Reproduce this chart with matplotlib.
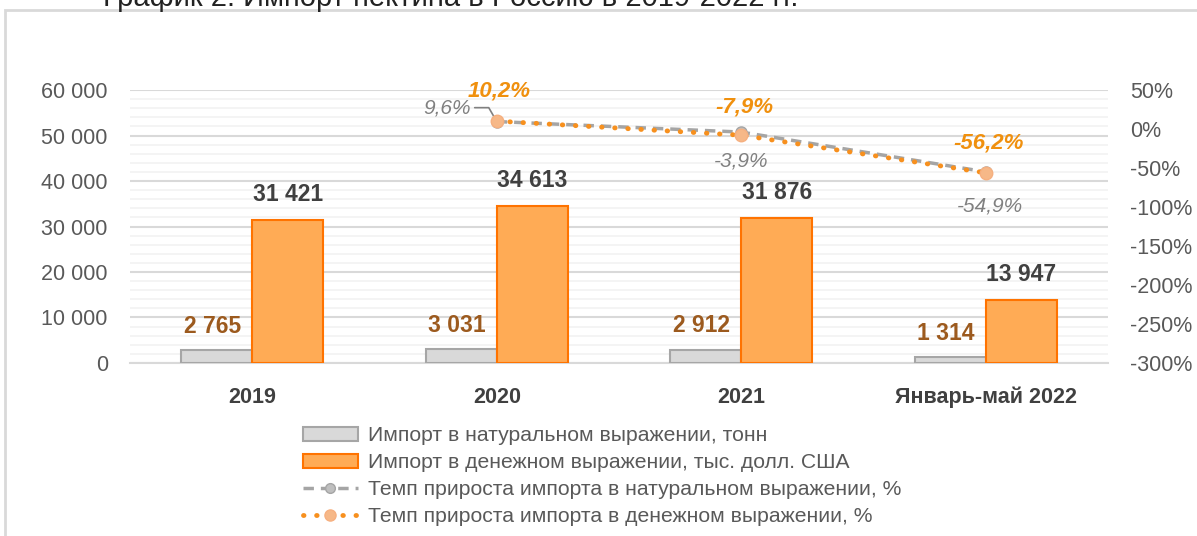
import matplotlib
matplotlib.use("Agg")
import matplotlib.pyplot as plt
from matplotlib.patches import Rectangle, Patch
from matplotlib.lines import Line2D
from matplotlib.ticker import FuncFormatter, MultipleLocator

plt.rcParams['font.family'] = ['Liberation Sans', 'DejaVu Sans']

categories = ["2019", "2020", "2021", "Январь-май 2022"]
import_tons = [2765, 3031, 2912, 1314]
import_usd = [31421, 34613, 31876, 13947]
growth_cats = [1, 2, 3]
growth_tons = [9.6, -3.9, -54.9]
growth_usd = [10.2, -7.9, -56.2]

title = "График 2. Импорт пектина в Россию в 2019-2022 гг."
leg_labels = ["Импорт в натуральном выражении, тонн",
              "Импорт в денежном выражении, тыс. долл. США",
              "Темп прироста импорта в натуральном выражении, %",
              "Темп прироста импорта в денежном выражении, %"]

GRAY_FILL = "#d9d9d9"
GRAY_EDGE = "#a6a6a6"
OR_FILL = "#ffab55"
OR_EDGE = "#ff7300"
TXT = "#595959"
DARK = "#404040"
BROWN = "#9c5a1e"
OR_TXT = "#f0900e"
LINE_GRAY = "#a5a5a5"
LINE_OR = "#f7901e"

fig = plt.figure(figsize=(11.97, 5.36), dpi=100)

# frame
fig.patches.append(Rectangle((0.0045, -0.2), 1.2, 0.2 + 0.981, transform=fig.transFigure,
                             fill=False, edgecolor="#d9d9d9", lw=2, zorder=0))
fig.text(0.086, 0.989, title, fontsize=21, color="#222222", va="baseline", ha="left")

ax = fig.add_axes([0.1086, 0.3228, 0.8171, 0.5092])
x = list(range(len(categories)))
w = 0.29
ax.bar([i - w / 2 for i in x], import_tons, width=w, color=GRAY_FILL, edgecolor=GRAY_EDGE, lw=1.5, zorder=3)
ax.bar([i + w / 2 for i in x], import_usd, width=w, color=OR_FILL, edgecolor=OR_EDGE, lw=1.5, zorder=3)

ax.set_xlim(-0.5, 3.5)
ax.set_ylim(0, 60000)
ax.yaxis.set_major_locator(MultipleLocator(10000))
ax.yaxis.set_minor_locator(MultipleLocator(2000))
ax.yaxis.set_major_formatter(FuncFormatter(lambda v, p: f"{int(v):,}".replace(",", " ")))
ax.grid(axis="y", which="major", color="#d9d9d9", lw=1.5, zorder=0)
ax.grid(axis="y", which="minor", color="#f2f2f2", lw=1.2, zorder=0)
ax.set_axisbelow(True)
for s in ["top", "left", "right"]:
    ax.spines[s].set_visible(False)
ax.spines["bottom"].set_color("#d9d9d9")
ax.spines["bottom"].set_linewidth(1.5)
ax.tick_params(axis="both", which="both", length=0)
ax.tick_params(axis="y", labelsize=15.5, labelcolor=TXT, pad=16)
ax.set_xticks(x)
ax.set_xticklabels(categories, fontsize=15.5, fontweight="bold", color=DARK)
ax.tick_params(axis="x", pad=17)

fmt = lambda v: f"{v:,}".replace(",", " ")
for i, v in enumerate(import_usd):
    ax.annotate(fmt(v), (i + w / 2, v), xytext=(0, 10), textcoords="offset points",
                ha="center", va="bottom", fontsize=16.5, fontweight="bold", color=DARK)
for i, v in enumerate(import_tons):
    ax.annotate(fmt(v), (i - w / 2, v), xytext=(-3, 9), textcoords="offset points",
                ha="center", va="bottom", fontsize=16.5, fontweight="bold", color=BROWN)

ax2 = ax.twinx()
ax2.set_ylim(-300, 50)
ax2.yaxis.set_major_locator(MultipleLocator(50))
ax2.yaxis.set_major_formatter(FuncFormatter(lambda v, p: f"{int(v)}%"))
for s in ["top", "left", "right", "bottom"]:
    ax2.spines[s].set_visible(False)
ax2.tick_params(axis="y", length=0, labelsize=15.5, labelcolor=TXT, pad=16)

ln1, = ax2.plot(growth_cats, growth_tons, color=LINE_GRAY, lw=2.5, ls=(0, (3, 2)),
                marker="o", ms=8, mfc="#bfbfbf", mec="#a5a5a5", zorder=4)
ln2, = ax2.plot(growth_cats, growth_usd, color=LINE_OR, lw=3.5, ls=(0, (0.1, 2.6)),
                dash_capstyle="round", marker="o", ms=9, mfc="#f6b888", mec="#f6b080", zorder=5)

pct = lambda v: f"{v:.1f}%".replace(".", ",")
usd_off = [(2, 14), (2, 13), (2, 14)]
for cx, v, off in zip(growth_cats, growth_usd, usd_off):
    ax2.annotate(pct(v), (cx, v), xytext=off, textcoords="offset points", ha="center", va="bottom",
                 fontsize=16, fontweight="bold", fontstyle="italic", color=OR_TXT)
ax2.annotate(pct(growth_tons[0]), (growth_cats[0], growth_tons[0]), xytext=(-36, 10),
             textcoords="offset points", ha="center", va="center",
             fontsize=15, fontstyle="italic", color="#808080",
             arrowprops=dict(arrowstyle="-", color="#808080", lw=1.2, shrinkA=1, shrinkB=4,
                             relpos=(1.0, 0.5),
                             connectionstyle="angle,angleA=0,angleB=-60,rad=0"))
for cx, v, off in zip(growth_cats[1:], growth_tons[1:], [(0, -14), (3, -18)]):
    ax2.annotate(pct(v), (cx, v), xytext=off, textcoords="offset points", ha="center", va="top",
                 fontsize=15, fontstyle="italic", color="#808080")

handles = [Patch(facecolor=GRAY_FILL, edgecolor=GRAY_EDGE, lw=1.5),
           Patch(facecolor=OR_FILL, edgecolor=OR_EDGE, lw=1.5),
           Line2D([], [], color=LINE_GRAY, lw=2.5, ls=(0, (3, 2)), marker="o", ms=7, mfc="#bfbfbf", mec="#a5a5a5"),
           Line2D([], [], color=LINE_OR, lw=3.5, ls=(0, (0.1, 2.6)), dash_capstyle="round",
                  marker="o", ms=8, mfc="#f6b888", mec="#f6b080")]
leg = fig.legend(handles, leg_labels, loc="upper left", bbox_to_anchor=(0.244, 0.224), frameon=False,
                 fontsize=15.2, handlelength=2.6, handleheight=0.6, handletextpad=0.5, labelspacing=0.37,
                 borderpad=0, numpoints=1)
for t in leg.get_texts():
    t.set_color(TXT)

fig.savefig("out.png", dpi=100)
